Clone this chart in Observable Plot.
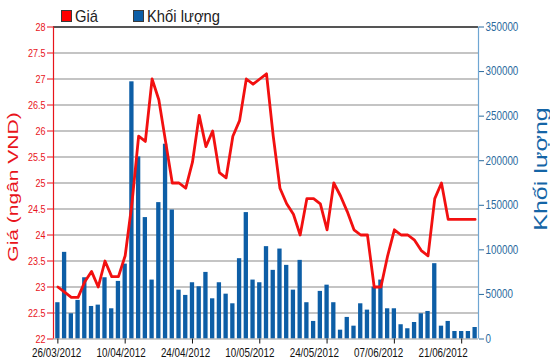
<!DOCTYPE html>
<html><head><meta charset="utf-8">
<script src="https://cdn.jsdelivr.net/npm/d3@7"></script>
<script src="https://cdn.jsdelivr.net/npm/@observablehq/plot@0.6"></script>
<style>
body{margin:0;background:#fff;}
#wrap{position:relative;width:550px;height:364px;font-family:"Liberation Sans",Arial,sans-serif;}
#legend{position:absolute;left:0;top:0;width:550px;height:26px;}
.sw{position:absolute;width:9px;height:10px;border:1px solid #3a3a3a;}
.lt{position:absolute;font-size:17px;line-height:17px;color:#222;transform:scaleX(0.87);transform-origin:0 0;white-space:nowrap;}
</style></head><body>
<div id="wrap"><div id="chart"></div><div id="legend"></div></div>
<script>
// ---- data ----
const dates = ["26/03/2012","10/04/2012","24/04/2012","10/05/2012","24/05/2012","07/06/2012","21/06/2012"];
const tickDays = [0,10,20,30,40,50,60];
const price = [23.0,22.9,22.8,22.8,23.1,23.3,23.0,23.5,23.2,23.2,
  23.6,24.6,25.9,25.8,27.0,26.6,25.8,25.0,25.0,24.9,
  25.4,26.3,25.7,26.0,25.2,25.1,25.9,26.2,27.0,26.9,
  27.0,27.1,25.9,24.9,24.6,24.4,24.0,24.7,24.7,24.6,
  24.1,25.0,24.75,24.45,24.1,24.0,24.0,23.0,23.0,23.6,
  24.1,24.0,24.0,23.9,23.7,23.6,24.7,25.0,24.3,24.3,
  24.3,24.3,24.3];
const volume = [40700,97200,28300,43300,68700,36500,38000,68700,33900,64600,
  84000,288500,204300,136200,66100,153000,218500,144700,54800,48900,
  63100,58600,74700,45100,63100,50300,39500,90100,141800,66100,
  63100,103600,77000,100900,82600,54800,88200,40700,19700,53400,
  60400,40700,9900,24200,14400,39500,32400,58200,66100,33900,
  33900,16000,11500,18500,28300,30900,84500,14400,19700,8400,
  8400,8400,12900];
const priceTicks = [22,22.5,23,23.5,24,24.5,25,25.5,26,26.5,27,27.5,28];
const volumeTicks = [0,50000,100000,150000,200000,250000,300000,350000];
const seriesNames = ["Giá","Khối lượng"];
const axisTitles = ["Giá (ngân VND)","Khối lượng"];

// ---- styling / layout ----
const RED = "#e8141b", BLUE = "#0d5ea6", BLUE_TXT = "#2a6a9e";
const xDomain = [-0.65, 62.5];
const yDomain = [priceTicks[0], priceTicks[priceTicks.length-1]];
const volMax = volumeTicks[volumeTicks.length-1];
const vToY = v => yDomain[0] + v / volMax * (yDomain[1]-yDomain[0]);
const yToV = y => Math.round((y - yDomain[0]) / (yDomain[1]-yDomain[0]) * volMax);
const idx = d3.range(price.length);
const labelSlots = 66;
const labelPos = tickDays.map(d => xDomain[0] + (d + 0.5) * (xDomain[1]-xDomain[0]) / labelSlots);
const labelMap = new Map(labelPos.map((p,k)=>[p, dates[k]]));

const chart = Plot.plot({
  width: 550, height: 364,
  marginTop: 26.5, marginBottom: 25.5, marginLeft: 53, marginRight: 72,
  x: {domain: xDomain},
  y: {domain: yDomain},
  style: {fontFamily: '"Liberation Sans", Arial, sans-serif', background: "#fff"},
  marks: [
    Plot.ruleY(priceTicks.slice(1, -1), {stroke: "#c4c4c4", strokeWidth: 2}),
    Plot.rect(idx, {x1: i => i - 0.32, x2: i => i + 0.32, y1: yDomain[0], y2: i => vToY(volume[i]), fill: BLUE}),
    Plot.ruleY([yDomain[1]], {stroke: "#555", strokeWidth: 2}),
    Plot.ruleY([yDomain[0]], {stroke: "#9a9a9a", strokeWidth: 1}),
    Plot.ruleX([xDomain[0]], {stroke: RED, strokeWidth: 1.2}),
    Plot.ruleX([xDomain[1]], {stroke: "#6fa6d3", strokeWidth: 1.2}),
    Plot.axisY({anchor: "left", ticks: priceTicks, tickFormat: d => String(d), tickSize: 6, tickPadding: 2, color: RED, fontSize: 11, label: null}),
    Plot.axisY({anchor: "right", ticks: volumeTicks.map(vToY), tickFormat: d => String(yToV(d)), tickSize: 5, tickPadding: 2, color: BLUE_TXT, fontSize: 12, label: null}),
    Plot.axisX({ticks: tickDays, tickSize: 5, tickFormat: () => "", color: "#111", label: null}),
    Plot.axisX({ticks: labelPos, tickSize: 0, tickPadding: 9, tickFormat: d => labelMap.get(d), color: "#111", fontSize: 12, label: null}),
    Plot.line(idx, {x: i => i, y: i => price[i], stroke: "#f21010", strokeWidth: 2.8, strokeLinejoin: "round"}),
    Plot.text([axisTitles[0]], {text: d => d, frameAnchor: "left", textAnchor: "middle", rotate: -90, dx: -40.5, dy: 4, fontSize: 21, fill: RED}),
    Plot.text([axisTitles[1]], {text: d => d, frameAnchor: "right", textAnchor: "middle", rotate: -90, dx: 63, dy: -14, fontSize: 25, fill: "#1565a6"})
  ]
});

// narrow the glyphs like the reference rendering (scale appended after the existing translate/rotate)
chart.querySelectorAll("text").forEach(t => {
  const base = t.getAttribute("transform");
  if (!base) return;
  const rotated = /rotate/.test(base);
  t.setAttribute("transform", base + (rotated ? " scale(1,0.72)" : " scale(0.82,1)"));
});
document.getElementById("chart").appendChild(chart);

// legend
const legend = document.getElementById("legend");
const legendColors = ["#ff0000", BLUE];
const swX = [61, 133], txX = [75, 147];
seriesNames.forEach((name, k) => {
  const s = document.createElement("div");
  s.className = "sw"; s.style.left = swX[k] + "px"; s.style.top = "10px"; s.style.background = legendColors[k];
  legend.appendChild(s);
  const t = document.createElement("div");
  t.className = "lt"; t.style.left = txX[k] + "px"; t.style.top = "8px"; t.textContent = name;
  legend.appendChild(t);
});
</script>
</body></html>
